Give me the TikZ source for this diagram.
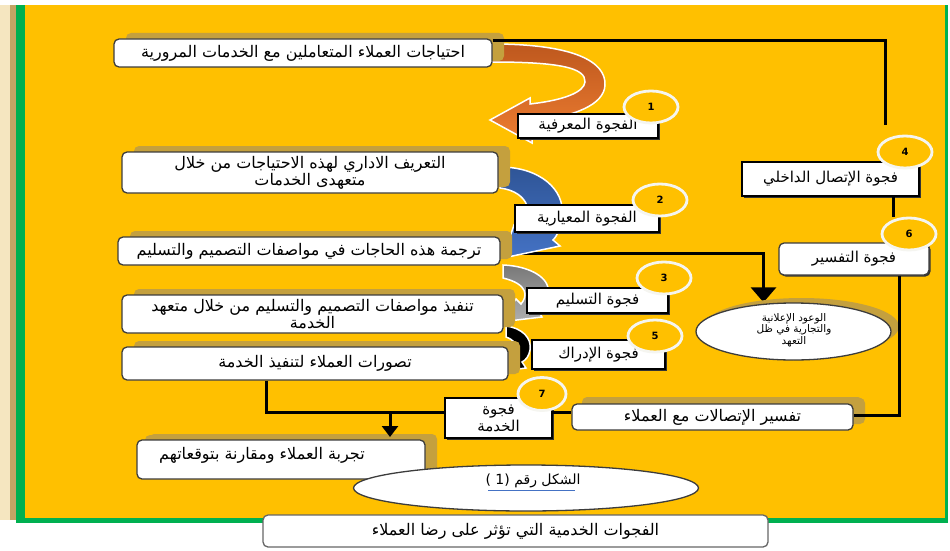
\documentclass[tikz,border=0pt]{standalone}
\usepackage{fontspec}
\newfontfamily\arabicfont[Script=Arabic]{DejaVu Sans}
\newfontfamily\numfont{DejaVu Sans}
\TeXXeTstate=1
\usetikzlibrary{shapes.geometric,arrows.meta,shadows}
\definecolor{gold}{RGB}{255,192,0}
\definecolor{tanshadow}{RGB}{196,160,62}
\definecolor{greenline}{RGB}{0,176,80}
\definecolor{beigeA}{RGB}{245,230,192}
\definecolor{beigeB}{RGB}{196,164,100}
\definecolor{brownA}{RGB}{190,88,30}
\definecolor{orangeA}{RGB}{237,125,49}
\definecolor{blueA}{RGB}{47,85,151}
\definecolor{blueB}{RGB}{68,114,196}
\definecolor{grayA}{RGB}{120,120,120}
\definecolor{grayB}{RGB}{175,175,175}
\definecolor{linkblue}{RGB}{68,114,196}
\definecolor{boxborder}{RGB}{60,60,60}
\definecolor{ringwhite}{RGB}{245,245,240}
\newcommand{\artxt}[1]{\beginR #1\endR}
\pgfdeclarelayer{bg}
\pgfdeclarelayer{lines}
\pgfdeclarelayer{arrs}
\pgfsetlayers{bg,lines,arrs,main}
\begin{document}
\begin{tikzpicture}[x=1pt,y=-1pt,
  stepbox/.style={rectangle, rounded corners=5pt, draw=boxborder, line width=1.3pt, fill=white, inner sep=0pt, align=center,
    font=\arabicfont\fontsize{16}{17}\selectfont,
    general shadow={fill=tanshadow, shadow xshift=12pt, shadow yshift=6pt}},
  gaplabel/.style={rectangle, draw=black, line width=1.3pt, fill=white, inner sep=0pt, align=center,
    font=\arabicfont\fontsize{15}{17}\selectfont,
    general shadow={fill=black!80, shadow xshift=1.5pt, shadow yshift=-1.5pt}},
  numcirc/.style={ellipse, fill=gold, draw=ringwhite, line width=2.8pt, minimum width=54pt, minimum height=32pt, inner sep=0pt,
    font=\numfont\bfseries\fontsize{10}{10}\selectfont},
  conn/.style={line width=3pt, black},
  plaintext/.style={inner sep=0pt, align=center, font=\arabicfont\fontsize{16}{17}\selectfont}
]
\useasboundingbox (0,0) rectangle (950,551);
% background
\begin{pgfonlayer}{bg}
\fill[white] (0,0) rectangle (950,551);
\fill[beigeA] (0,5) rectangle (10,520);
\fill[beigeB] (10,5) rectangle (16,520);
\fill[greenline] (16,5) rectangle (25,520);
\fill[gold] (25,5) rectangle (946,518);
\fill[greenline] (16,518) rectangle (948,523);
\fill[greenline] (945,5) rectangle (948,523);
\end{pgfonlayer}

% boxes
\node[stepbox, minimum width=378pt, minimum height=28pt] (A) at (303,53) {\artxt{احتياجات العملاء المتعاملين مع الخدمات المرورية}};
\node[stepbox, minimum width=376pt, minimum height=41pt] (B) at (310,172.5) {\artxt{التعريف الاداري لهذه الاحتياجات من خلال}\\\artxt{متعهدى الخدمات}};
\node[stepbox, minimum width=382pt, minimum height=28pt] (C) at (309,251) {\artxt{ترجمة هذه الحاجات في مواصفات التصميم والتسليم}};
\node[stepbox, minimum width=381pt, minimum height=38pt] (D) at (312.5,314) {\artxt{تنفيذ مواصفات التصميم والتسليم من خلال متعهد}\\\artxt{الخدمة}};
\node[stepbox, minimum width=386pt, minimum height=33pt] (E) at (315,363.5) {\artxt{تصورات العملاء لتنفيذ الخدمة}};
\node[stepbox, minimum width=288pt, minimum height=39pt, general shadow={fill=tanshadow, shadow xshift=8pt, shadow yshift=5pt}] (F) at (281,459.5) {};
\node[plaintext] (Ftext) at (262,455) {\artxt{تجربة العملاء ومقارنة بتوقعاتهم}};
\node[stepbox, minimum width=281pt, minimum height=26pt, general shadow={fill=tanshadow, shadow xshift=10pt, shadow yshift=7pt}] (H) at (712.5,417) {\artxt{تفسير الإتصالات مع العملاء}};
\node[ellipse, draw=boxborder, line width=1.3pt, fill=white, minimum width=195pt, minimum height=57pt, inner sep=0pt,
  general shadow={fill=tanshadow, shadow xshift=8pt, shadow yshift=5pt}] (V) at (793.5,331.5) {};
\node[inner sep=0pt, align=center, font=\arabicfont\fontsize{10.5}{11.5}\selectfont] (Vtext) at (794,330) {\artxt{الوعود الإعلانية}\\\artxt{والتجارية في ظل}\\\artxt{التعهد}};

% caption ellipse and bottom box
\node[ellipse, draw=boxborder, line width=1.3pt, fill=white, minimum width=345pt, minimum height=46pt, inner sep=0pt] (cap) at (526,488) {};
\node[plaintext, font=\arabicfont\fontsize{14}{15}\selectfont] (captext) at (533,481) {\artxt{الشكل رقم (1 )}};
\node[rectangle, rounded corners=5pt, draw=black!60, line width=1.3pt, fill=white, minimum width=505pt, minimum height=32pt, inner sep=0pt,
  font=\arabicfont\fontsize{16}{17}\selectfont] (bottom) at (515.5,531) {\artxt{الفجوات الخدمية التي تؤثر على رضا العملاء}};

% curved block arrows
\begin{pgfonlayer}{arrs}
\draw[top color=brownA, bottom color=orangeA, draw=white, line width=1.5pt]
  (492,44) .. controls (575,44) and (606,62) .. (605,85)
  .. controls (604,105) and (575,116) .. (532,122)
  -- (532,143) -- (490,120) -- (530,98) -- (530,104)
  .. controls (565,100) and (584,92) .. (585,82)
  .. controls (586,68) and (560,62) .. (492,62) -- cycle;
\draw[top color=blueA, bottom color=blueB, draw=white, line width=1.5pt]
  (500,167) .. controls (540,167) and (565,190) .. (562,215)
  .. controls (561,228) and (557,236) .. (553,240)
  -- (560,246) -- (503,258) -- (514,225) -- (522,231)
  .. controls (534,215) and (530,192) .. (500,188) -- cycle;
\draw[top color=grayA, bottom color=grayB, draw=white, line width=1.5pt]
  (503,265) .. controls (530,266) and (550,278) .. (548,292)
  .. controls (547,300) and (543,306) .. (538,310)
  -- (542,317) -- (500,322) -- (516,299) -- (521,304)
  .. controls (528,296) and (528,284) .. (503,278) -- cycle;
\draw[fill=black, draw=white, line width=1.5pt]
  (506,326) .. controls (522,328) and (532,338) .. (530,350)
  .. controls (529,356) and (526,360) .. (522,362)
  -- (526,368) -- (503,371) -- (512,356) -- (516,359)
  .. controls (520,354) and (520,342) .. (506,337) -- cycle;
\end{pgfonlayer}

% gap labels
\node[gaplabel, minimum width=140pt, minimum height=24pt] (G1) at (588,126) {\artxt{الفجوة المعرفية}};
\node[gaplabel, minimum width=144pt, minimum height=27pt] (G2) at (587,218.5) {\artxt{الفجوة المعيارية}};
\node[gaplabel, minimum width=141pt, minimum height=25pt] (G3) at (597.5,300.5) {\artxt{فجوة التسليم}};
\node[gaplabel, minimum width=133pt, minimum height=29pt] (G5) at (598.5,354.5) {\artxt{فجوة الإدراك}};
\node[gaplabel, minimum width=107pt, minimum height=40pt] (G7) at (498.5,418) {\artxt{فجوة}\\\artxt{الخدمة}};
\node[gaplabel, minimum width=177pt, minimum height=34pt] (G4) at (830.5,179) {\artxt{فجوة الإتصال الداخلي}};
\node[gaplabel, rounded corners=5pt, draw=boxborder, minimum width=150pt, minimum height=32pt] (G6) at (854,259) {\artxt{فجوة التفسير}};

% number circles
\node[numcirc] (c1) at (651,107) {1};
\node[numcirc] (c2) at (660,200) {2};
\node[numcirc] (c3) at (664,278) {3};
\node[numcirc] (c5) at (655,336) {5};
\node[numcirc, minimum width=48pt, minimum height=33pt] (c7) at (542,394) {7};
\node[numcirc] (c4) at (905,152) {4};
\node[numcirc] (c6) at (909,234) {6};

% connectors
\coordinate (L1end) at (885,125);
\coordinate (L2top) at (893,196);
\coordinate (J) at (390,412);
\coordinate (Fin) at (390,437);
\draw[conn] ([yshift=-2pt]A.north east) -| (L1end);
\draw[conn] (L2top) -- (L2top |- c6.north);
\draw[conn] ([xshift=45pt]G6.south) |- ([yshift=2pt]H.east);
\begin{pgfonlayer}{lines}
\draw[conn, -{Triangle[width=25pt,length=15pt]}] ([yshift=-2pt]C.east) -| ([xshift=-30pt]V.north);
\end{pgfonlayer}
\draw[conn] ([xshift=-49pt]E.south) |- ([yshift=6pt]G7.west);
\draw[conn, -{Triangle[width=16pt,length=11pt]}] (J) -- (Fin);
\draw[conn] ([yshift=6pt]G7.east) -- ([yshift=6pt]G7.east -| H.west);

% caption underline
\draw[linkblue, line width=1pt] ([shift={(-45,9)}]captext.center) -- ([shift={(42,9)}]captext.center);
\end{tikzpicture}
\end{document}
